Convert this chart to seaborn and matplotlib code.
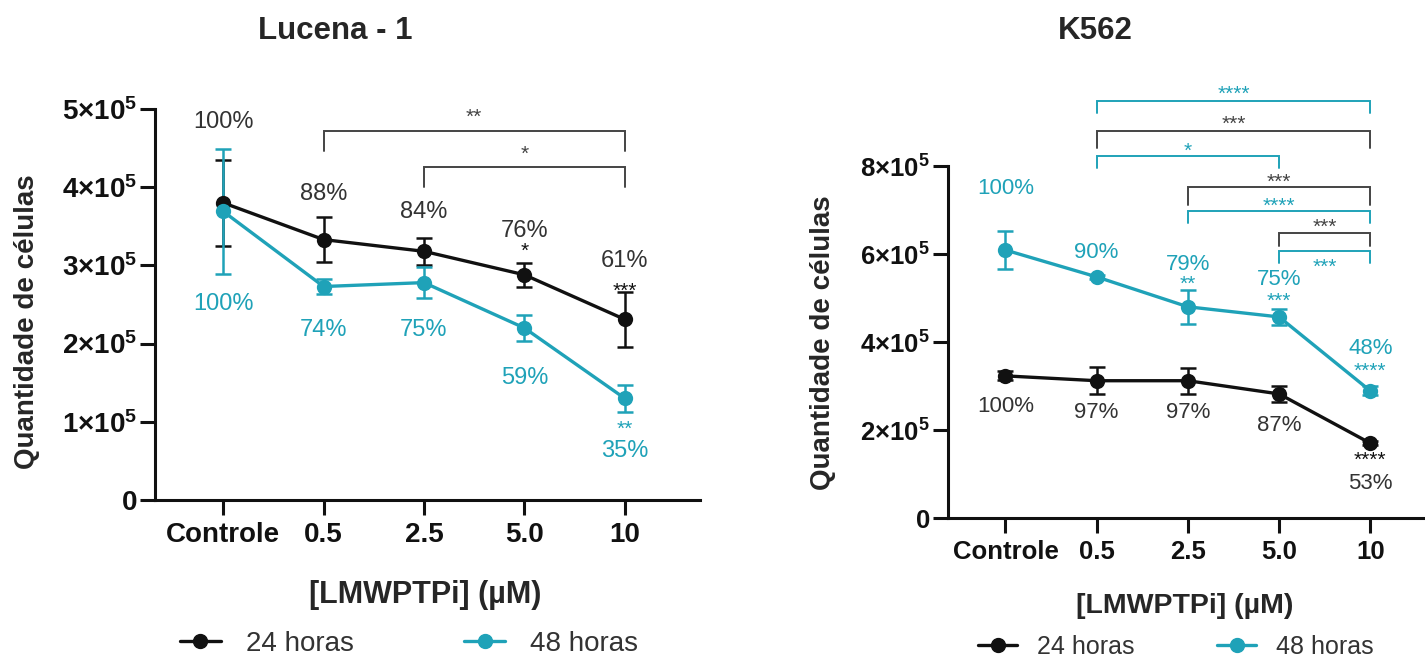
import pandas as pd
import seaborn as sns
import matplotlib.pyplot as plt
from matplotlib.lines import Line2D

# doses on the x axis
doses = ["Controle", "0.5", "2.5", "5.0", "10"]

# Lucena - 1 (mean and sd, cells)
luc_24 = [3.80e5, 3.33e5, 3.18e5, 2.88e5, 2.31e5]
luc_24_sd = [0.55e5, 0.29e5, 0.17e5, 0.15e5, 0.35e5]
luc_48 = [3.69e5, 2.73e5, 2.78e5, 2.20e5, 1.30e5]
luc_48_sd = [0.80e5, 0.10e5, 0.20e5, 0.17e5, 0.17e5]
luc_24_pct = ["100%", "88%", "84%", "76%", "61%"]
luc_48_pct = ["100%", "74%", "75%", "59%", "35%"]
luc_24_star = ["", "", "", "*", "***"]
luc_48_star = ["", "", "", "", "**"]

# K562
k_24 = [3.23e5, 3.12e5, 3.12e5, 2.82e5, 1.70e5]
k_24_sd = [0.10e5, 0.31e5, 0.30e5, 0.19e5, 0.04e5]
k_48 = [6.09e5, 5.48e5, 4.80e5, 4.57e5, 2.89e5]
k_48_sd = [0.43e5, 0.05e5, 0.38e5, 0.19e5, 0.10e5]
k_24_pct = ["100%", "97%", "97%", "87%", "53%"]
k_48_pct = ["100%", "90%", "79%", "75%", "48%"]
k_24_star = ["", "", "", "", "****"]
k_48_star = ["", "", "**", "***", "****"]

# comparison brackets: (from, to, label, series)
luc_brackets = [(1, 4, "**", "24"), (2, 4, "*", "24")]
k_brackets = [(1, 4, "****", "48"), (1, 4, "***", "24"), (1, 3, "*", "48"),
              (2, 4, "***", "24"), (2, 4, "****", "48"),
              (3, 4, "***", "24"), (3, 4, "***", "48")]

BLACK = "#111111"
TEAL = "#1fa2b8"
GREY = "#444444"
col = {"24": GREY, "48": TEAL}

sns.set_style("ticks")
plt.rcParams['font.family'] = ['Liberation Sans', 'DejaVu Sans']
plt.rcParams['mathtext.fontset'] = 'custom'
plt.rcParams['mathtext.rm'] = 'Liberation Sans'
plt.rcParams['mathtext.bf'] = 'Liberation Sans:bold'

W, H = 1425, 661
fig = plt.figure(figsize=(W / 100, H / 100), dpi=100)
ax1 = fig.add_axes([155 / W, 1 - 500 / H, (700 - 155) / W, (500 - 109) / H])
ax2 = fig.add_axes([948 / W, 1 - 518 / H, (1425 - 948) / W, (518 - 166) / H])


def draw_series(ax, m24, s24, m48, s48):
    df = pd.DataFrame({"x": list(range(len(doses))) * 2,
                       "y": m24 + m48,
                       "tempo": ["24 horas"] * len(doses) + ["48 horas"] * len(doses)})
    ax.errorbar(range(len(doses)), m24, yerr=s24, fmt='none', ecolor=BLACK,
                elinewidth=1.8, capsize=5.5, capthick=1.8, zorder=2)
    ax.errorbar(range(len(doses)), m48, yerr=s48, fmt='none', ecolor=TEAL,
                elinewidth=1.8, capsize=5.5, capthick=1.8, zorder=2)
    sns.lineplot(data=df, x="x", y="y", hue="tempo", palette=[BLACK, TEAL],
                 marker="o", markersize=11, markeredgewidth=0, linewidth=2.4,
                 legend=False, ax=ax, zorder=3)


def labels(ax, vals, txt, offs, color, size):
    for i, (v, t, o) in enumerate(zip(vals, txt, offs)):
        if t:
            ax.annotate(t, (i, v), xytext=(0, o), textcoords='offset pixels',
                        ha='center', va='center', color=color, fontsize=size,
                        annotation_clip=False)


def stars(ax, vals, txt, offs, color):
    # asterisks sit high in the em box, so push them down a little
    labels(ax, vals, txt, [o - 5 for o in offs], color, 15)


def bracket(ax, x0, x1, y, leg, ty, label, color):
    ax.plot([x0, x0, x1, x1], [leg, y, y, leg], color=color, lw=1.4,
            clip_on=False, solid_joinstyle='miter')
    ax.annotate(label, ((x0 + x1) / 2, ty), xytext=(0, -5), textcoords='offset pixels',
                ha='center', va='center', color=color, fontsize=15,
                annotation_clip=False)


def style_axis(ax, ymax, step, xlim, tsize, xlsize, pad):
    ax.set_xlim(*xlim)
    ax.set_ylim(0, ymax)
    ax.set_xticks(range(len(doses)))
    ax.set_xticklabels(doses, fontweight='bold', fontsize=tsize)
    ticks = list(range(0, int(ymax / 1e5) + 1, step))
    ax.set_yticks([t * 1e5 for t in ticks])
    ax.set_yticklabels(["0" if t == 0 else r"$\mathbf{%d{\times}10^{5}}$" % t for t in ticks],
                       fontsize=tsize, fontweight='bold')
    sns.despine(ax=ax)
    for s in ["left", "bottom"]:
        ax.spines[s].set_linewidth(2.2)
        ax.spines[s].set_color(BLACK)
    ax.tick_params(axis='x', length=11, width=2.2, pad=pad, colors=BLACK)
    ax.tick_params(axis='y', length=11, width=2.2, pad=2, colors=BLACK)
    ax.set_xlabel("[LMWPTPi] (µM)", fontsize=xlsize, fontweight='bold')
    ax.set_ylabel("Quantidade de células", fontsize=20, fontweight='bold')
    ax.xaxis.label.set_va('center')
    ax.yaxis.label.set_va('center')


# Lucena - 1
draw_series(ax1, luc_24, luc_24_sd, luc_48, luc_48_sd)
style_axis(ax1, 5e5, 1, (-0.68, 4.75), 20, 22, 5)
labels(ax1, luc_24, luc_24_pct, [81, 46, 39, 44, 58], "#333333", 17)
labels(ax1, luc_48, luc_48_pct, [-93, -43, -47, -50, -53], TEAL, 17)
stars(ax1, luc_24, luc_24_star, [28, 28, 28, 28, 33], BLACK)
stars(ax1, luc_48, luc_48_star, [-26, -26, -26, -26, -26], TEAL)
luc_levels = [(4.72e5, 4.46e5, 4.96e5), (4.26e5, 4.00e5, 4.49e5)]
for (x0, x1, lab, s), (y, leg, ty) in zip(luc_brackets, luc_levels):
    bracket(ax1, x0, x1, y, leg, ty, lab, col[s])
ax1.yaxis.set_label_coords(-0.235, 0.455)
ax1.xaxis.set_label_coords(0.495, -0.243)

# K562
draw_series(ax2, k_24, k_24_sd, k_48, k_48_sd)
style_axis(ax2, 8e5, 2, (-0.63, 4.6), 18.5, 20.5, 4.5)
labels(ax2, k_24, k_24_pct, [-31, -32, -32, -32, -40], "#333333", 16)
labels(ax2, k_48, k_48_pct, [62, 24, 42, 37, 42], TEAL, 16)
stars(ax2, k_24, k_24_star, [-12, -12, -12, -12, -12], BLACK)
stars(ax2, k_48, k_48_star, [27, 27, 27, 21, 25], TEAL)
k_levels = [(9.48e5, 9.20e5, 9.75e5), (8.80e5, 8.41e5, 9.07e5),
            (8.23e5, 7.95e5, 8.45e5), (7.52e5, 7.11e5, 7.75e5),
            (6.98e5, 6.70e5, 7.20e5), (6.48e5, 6.18e5, 6.73e5),
            (6.07e5, 5.80e5, 5.82e5)]
for (x0, x1, lab, s), (y, leg, ty) in zip(k_brackets, k_levels):
    bracket(ax2, x0, x1, y, leg, ty, lab, col[s])
ax2.yaxis.set_label_coords(-0.262, 0.497)
ax2.xaxis.set_label_coords(0.497, -0.25)

fig.text(335 / W, 1 - 31 / H, "Lucena - 1", ha='center', va='center',
         fontsize=22.5, fontweight='bold')
fig.text(1095 / W, 1 - 31 / H, "K562", ha='center', va='center',
         fontsize=22.5, fontweight='bold')

handles = [Line2D([], [], color=BLACK, marker='o', lw=2.4, ms=10),
           Line2D([], [], color=TEAL, marker='o', lw=2.4, ms=10)]
fig.legend(handles, ["24 horas", "48 horas"], loc='center',
           bbox_to_anchor=(409 / W, 1 - 644 / H), ncol=2, frameon=False,
           fontsize=20, columnspacing=4.0, handlelength=1.45, handletextpad=0.9,
           labelcolor="#333333", borderpad=0, borderaxespad=0)
fig.legend(handles, ["24 horas", "48 horas"], loc='center',
           bbox_to_anchor=(1176 / W, 1 - 647 / H), ncol=2, frameon=False,
           fontsize=18, columnspacing=3.3, handlelength=1.55, handletextpad=0.8,
           labelcolor="#333333", borderpad=0, borderaxespad=0)

fig.savefig("out.png", dpi=100)
